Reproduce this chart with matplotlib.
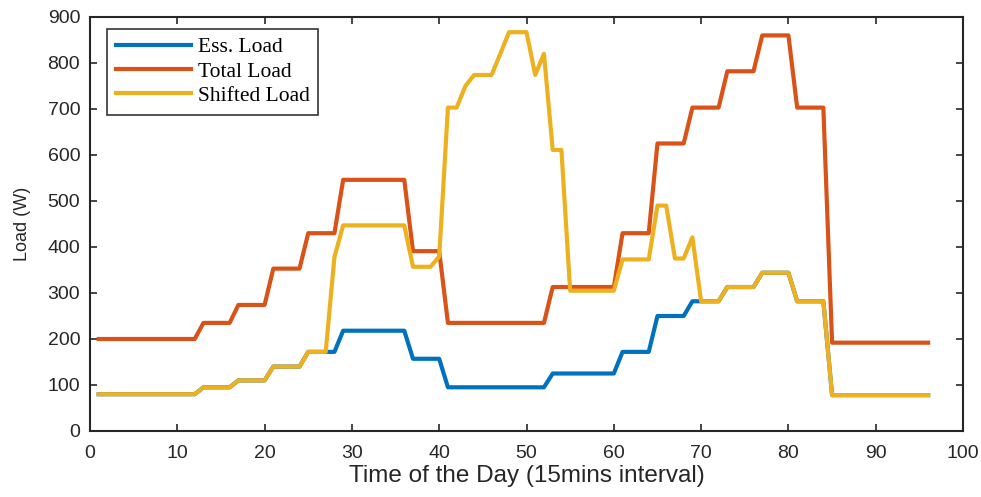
import numpy as np
import matplotlib
matplotlib.use("Agg")
import matplotlib.pyplot as plt

""" Load values per 15 min slot (1..96) """
slots = np.arange(1, 97)

ess_load = ([80] * 12 + [95] * 4 + [110] * 4 + [140] * 4 + [172] * 4 + [218] * 8
            + [157] * 4 + [95] * 12 + [125] * 8 + [172] * 4 + [250] * 4 + [282] * 4
            + [313] * 4 + [344] * 4 + [282] * 4 + [78] * 12)

total_load = ([200] * 12 + [235] * 4 + [274] * 4 + [353] * 4 + [430] * 4 + [546] * 8
              + [391] * 4 + [235] * 12 + [313] * 8 + [430] * 4 + [625] * 4 + [703] * 4
              + [782] * 4 + [860] * 4 + [703] * 4 + [192] * 12)

shifted_load = ([80] * 12 + [95] * 4 + [110] * 4 + [140] * 4 + [172] * 3 + [378] + [447] * 8
                + [357] * 3 + [379] + [703, 703, 750, 774, 774, 774, 820, 867, 867, 867, 774, 820]
                + [611, 611] + [305] * 6 + [373] * 4 + [490, 490, 375, 375, 421]
                + [282] * 3 + [313] * 4 + [344] * 4 + [282] * 4 + [78] * 12)

series = [("Ess. Load", ess_load, "#0072BD"),
          ("Total Load", total_load, "#D95319"),
          ("Shifted Load", shifted_load, "#EDB120")]

fig = plt.figure(figsize=(9.81, 4.97), dpi=100)
ax = fig.add_axes([0.0917, 0.1328, 0.89, 0.833])

for name, vals, col in series:
    ax.plot(slots, vals, color=col, linewidth=3, label=name)

ax.set_xlim(0, 100)
ax.set_ylim(0, 900)
ax.set_xticks(np.arange(0, 101, 10))
ax.set_yticks(np.arange(0, 901, 100))
ax.tick_params(direction="in", top=True, right=True, length=5, width=1.2,
               labelsize=14, colors="#262626")
ax.tick_params(axis="x", pad=10)
ax.tick_params(axis="y", pad=7)
for lbl in ax.get_xticklabels() + ax.get_yticklabels():
    lbl.set_fontfamily("Liberation Sans")
for s in ax.spines.values():
    s.set_linewidth(1.5)
    s.set_color("#262626")

ax.set_xlabel("Time of the Day (15mins interval)", fontsize=17.5, family="Liberation Sans",
              color="#262626", labelpad=2)
ax.set_ylabel("Load (W)", fontsize=13, family="Liberation Sans", color="#262626", labelpad=12)

leg = ax.legend(loc="upper left", bbox_to_anchor=(0.02, 0.972), prop={"family": "Liberation Serif", "size": 15.5},
                frameon=True, fancybox=False, edgecolor="black", handlelength=3.5,
                borderpad=0.4, labelspacing=0.2, handletextpad=0.3, borderaxespad=0)
leg.get_frame().set_linewidth(1.2)

plt.savefig("out.png", dpi=100)
